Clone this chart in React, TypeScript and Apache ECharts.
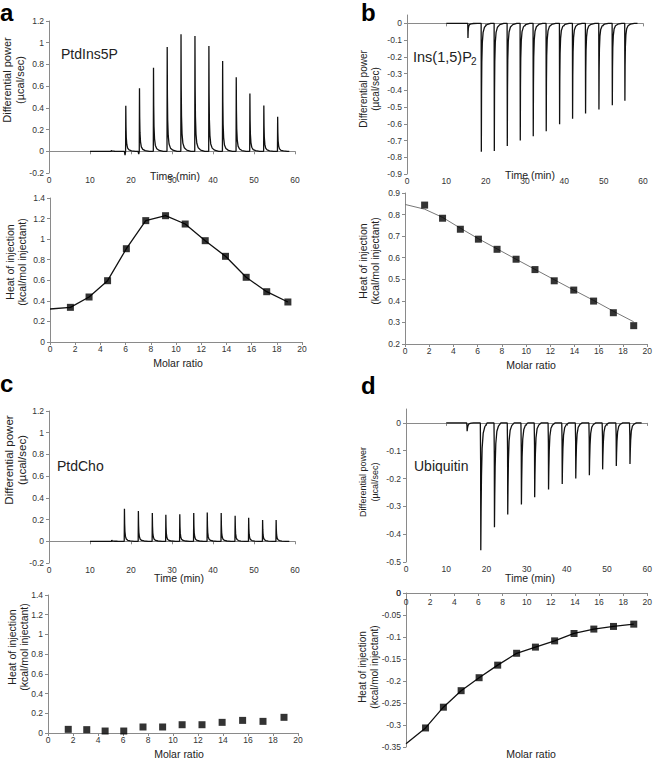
import React, { useEffect, useRef } from 'react';
import * as echarts from 'echarts';

const FONT = '"Liberation Sans", Arial, Helvetica, sans-serif';

// Molar ratio of each integrated injection (shared by all binding isotherms)
const molarRatio = [1.62, 3.1, 4.57, 6.06, 7.6, 9.17, 10.73, 12.32, 13.93, 15.57, 17.2, 18.88];

// Panel a – PtdIns5P
const aPeakTime = [15.2, 18.73, 22.07, 25.49, 28.83, 32.2, 35.6, 39.0, 42.35, 45.67, 49.0, 52.4, 55.77];
const aPeakHeight = [0.008, 0.42, 0.58, 0.77, 0.96, 1.077, 1.061, 0.969, 0.831, 0.681, 0.533, 0.422, 0.317];
const aPreDip = [0, 0.035, 0.025, 0, 0, 0, 0, 0, 0, 0, 0, 0, 0];
const aHeat = [0.337, 0.4375, 0.596, 0.907, 1.18, 1.228, 1.147, 0.985, 0.833, 0.629, 0.489, 0.389];
const aFitX = [0, 1.62, 3.1, 4.57, 6.06, 7.6, 9.17, 10.73, 12.32, 13.93, 15.57, 17.2, 18.88];
const aFitY = [0.321, 0.337, 0.4375, 0.596, 0.907, 1.18, 1.228, 1.147, 0.985, 0.833, 0.629, 0.489, 0.389];

// Panel b – Ins(1,5)P2
const bPeakTime = [15.5, 18.9, 22.2, 25.5, 28.8, 32.1, 35.4, 38.8, 42.1, 45.4, 48.8, 52.2, 55.4];
const bPeakHeight = [-0.087, -0.767, -0.763, -0.733, -0.7, -0.674, -0.644, -0.602, -0.57, -0.538, -0.515, -0.489, -0.463];
const bHeat = [0.844, 0.783, 0.732, 0.686, 0.639, 0.593, 0.545, 0.493, 0.45, 0.399, 0.345, 0.285];
const bFitX = [0, 1.62, 3.1, 4.57, 6.06, 7.6, 9.17, 10.73, 12.32, 13.93, 15.57, 17.2, 18.88];
const bFitY = [0.847, 0.825, 0.787, 0.737, 0.688, 0.641, 0.593, 0.546, 0.498, 0.45, 0.402, 0.352, 0.303];

// Panel c – PtdCho
const cPeakTime = [15.3, 18.4, 21.8, 25.2, 28.5, 31.9, 35.3, 38.6, 42.0, 45.4, 48.7, 52.1, 55.4];
const cPeakHeight = [0.012, 0.3, 0.278, 0.26, 0.244, 0.25, 0.26, 0.266, 0.26, 0.235, 0.217, 0.195, 0.195];
const cHeat = [0.037, 0.034, 0.02, 0.02, 0.061, 0.061, 0.084, 0.084, 0.108, 0.128, 0.118, 0.159];

// Panel d – Ubiquitin
const dPeakTime = [15.2, 18.6, 22.0, 25.3, 28.7, 32.0, 35.45, 38.85, 42.22, 45.6, 48.9, 52.3, 55.7];
const dPeakHeight = [-0.03, -0.458, -0.375, -0.329, -0.293, -0.267, -0.239, -0.22, -0.2, -0.188, -0.167, -0.155, -0.148];
const dHeat = [-0.3067, -0.2595, -0.222, -0.1925, -0.164, -0.137, -0.123, -0.1088, -0.092, -0.082, -0.076, -0.0708];
const dFitX = [0, 1.62, 3.1, 4.57, 6.06, 7.6, 9.17, 10.73, 12.32, 13.93, 15.57, 17.2, 18.88];
const dFitY = [-0.3425, -0.3067, -0.2595, -0.222, -0.1925, -0.164, -0.137, -0.123, -0.1088, -0.092, -0.082, -0.076, -0.0708];

// Peak shape templates [minutes after injection, fraction of peak height]
const sharpProfile: number[][] = [[-0.05, 0], [0, 1], [0.05, 0.55], [0.12, 0.3], [0.25, 0.15], [0.45, 0.07], [0.8, 0.03], [1.4, 0.01], [2.4, 0]];
const broadProfile: number[][] = [[-0.12, 0], [-0.04, 0.3], [0, 1], [0.07, 0.7], [0.17, 0.42], [0.33, 0.2], [0.6, 0.08], [1.0, 0.03], [1.6, 0]];

function thermogram(times: number[], heights: number[], profile: number[][], dips?: number[]) {
  const pts: number[][] = [[10, 0]];
  times.forEach((t, i) => {
    if (dips && dips[i] > 0) {
      pts.push([t - 0.35, 0]);
      pts.push([t - 0.18, -dips[i]]);
    }
    profile.forEach(([dt, f]) => pts.push([t + dt, heights[i] * f]));
  });
  pts.push([58.6, 0]);
  return pts;
}

const pairs = (xs: number[], ys: number[]) => xs.map((x, i) => [x, ys[i]]);

const AX = '#8a8a8a';
const LBL = '#333';

function xAxisDef(grid: number, max: number, interval: number, top = false) {
  return {
    type: 'value', gridIndex: grid, min: 0, max, interval,
    position: top ? 'top' : 'bottom',
    axisLine: { show: true, onZero: !top, lineStyle: { color: AX, width: 1 } },
    axisTick: { show: true, length: 3, inside: top, lineStyle: { color: AX } },
    axisLabel: { fontSize: 8.5, color: LBL, margin: top ? 4 : 2, inside: top, fontFamily: FONT },
    splitLine: { show: false },
  };
}
function yAxisDef(grid: number, min: number, max: number, interval: number, hideMax = false) {
  return {
    type: 'value', gridIndex: grid, min, max, interval,
    axisLine: { show: true, onZero: false, lineStyle: { color: AX, width: 1 } },
    axisTick: { show: true, length: 3, lineStyle: { color: AX } },
    axisLabel: { fontSize: 8.5, color: LBL, margin: 5, fontFamily: FONT, showMaxLabel: !hideMax, showMinLabel: true },
    splitLine: { show: false },
  };
}

function txt(x: number, y: number, text: string, size: number, opts: any = {}) {
  return {
    type: 'text', x, y, rotation: opts.rotation || 0, silent: true,
    style: {
      text, fontSize: size, fontFamily: FONT, fill: opts.fill || '#222',
      fontWeight: opts.bold ? 'bold' : 'normal',
      textAlign: opts.align || 'center', textVerticalAlign: opts.valign || 'middle',
      lineHeight: opts.lineHeight || Math.round(size * 1.2),
    },
  };
}

export default function App() {
  const ref = useRef<HTMLDivElement>(null);
  useEffect(() => {
    document.body.style.margin = '0';
    const chart = echarts.init(ref.current!, null, { renderer: 'svg' });
    const lineS = (x: number, data: number[][], color = '#111', width = 1.3) => ({
      type: 'line', xAxisIndex: x, yAxisIndex: x, data, showSymbol: false, symbol: 'none',
      lineStyle: { color, width }, z: 2, silent: true,
    });
    const scatterS = (x: number, ys: number[]) => ({
      type: 'scatter', xAxisIndex: x, yAxisIndex: x, data: pairs(molarRatio, ys),
      symbol: 'rect', symbolSize: 7, itemStyle: { color: '#000' }, z: 3, silent: true,
    });
    const R = Math.PI / 2;
    const option: any = {
      animation: false,
      textStyle: { fontFamily: FONT },
      grid: [
        { left: 49, top: 21, width: 246, height: 152 },
        { left: 50, top: 198, width: 252, height: 144 },
        { left: 407, top: 15, width: 236, height: 159 },
        { left: 405, top: 193, width: 245, height: 151 },
        { left: 49, top: 411, width: 246, height: 152 },
        { left: 48, top: 595, width: 250, height: 138 },
        { left: 406, top: 409, width: 242, height: 153 },
        { left: 406, top: 593, width: 244, height: 154 },
      ],
      xAxis: [
        xAxisDef(0, 60, 10), xAxisDef(1, 20, 2), xAxisDef(2, 60, 10), xAxisDef(3, 20, 2),
        xAxisDef(4, 60, 10), xAxisDef(5, 20, 2), xAxisDef(6, 60, 10), xAxisDef(7, 20, 2, true),
      ],
      yAxis: [
        yAxisDef(0, -0.2, 1.2, 0.2), yAxisDef(1, 0, 1.4, 0.2),
        yAxisDef(2, -0.9, 0.05, 0.1, true), yAxisDef(3, 0.2, 0.9, 0.1),
        yAxisDef(4, -0.2, 1.2, 0.2), yAxisDef(5, 0, 1.4, 0.2),
        yAxisDef(6, -0.5, 0.05, 0.1, true), yAxisDef(7, -0.35, 0, 0.05),
      ],
      series: [
        lineS(0, thermogram(aPeakTime, aPeakHeight, sharpProfile, aPreDip)),
        lineS(1, pairs(aFitX, aFitY)), scatterS(1, aHeat),
        lineS(2, thermogram(bPeakTime, bPeakHeight, sharpProfile)),
        lineS(3, pairs(bFitX, bFitY), '#777', 1), scatterS(3, bHeat),
        lineS(4, thermogram(cPeakTime, cPeakHeight, sharpProfile)),
        scatterS(5, cHeat),
        lineS(6, thermogram(dPeakTime, dPeakHeight, broadProfile)),
        lineS(7, pairs(dFitX, dFitY)), scatterS(7, dHeat),
      ],
      graphic: [
        // panel letters
        txt(0, 12.6, 'a', 24, { bold: true, align: 'left', fill: '#000' }),
        txt(361, 12.6, 'b', 24, { bold: true, align: 'left', fill: '#000' }),
        txt(0, 383, 'c', 24, { bold: true, align: 'left', fill: '#000' }),
        txt(361, 385, 'd', 24, { bold: true, align: 'left', fill: '#000' }),
        // compound names
        txt(61, 54, 'PtdIns5P', 14, { align: 'left' }),
        txt(413, 57, 'Ins(1,5)P', 14.5, { align: 'left' }),
        txt(471, 61, '2', 10, { align: 'left' }),
        txt(57, 466, 'PtdCho', 14, { align: 'left' }),
        txt(414, 466, 'Ubiquitin', 14, { align: 'left' }),
        // zero label at the top of the d isotherm's y axis
        txt(401, 593, '0', 8.5, { align: 'right', fill: LBL }),
        // x titles
        txt(175, 176, 'Time (min)', 10.5),
        txt(178, 363, 'Molar ratio', 10.5),
        txt(530, 175, 'Time (min)', 10.5),
        txt(531, 365, 'Molar ratio', 10.5),
        txt(179, 578, 'Time (min)', 10.5),
        txt(179, 754, 'Molar ratio', 10.5),
        txt(530, 578, 'Time (min)', 10.5),
        txt(531, 754, 'Molar ratio', 10.5),
        // y titles
        txt(13, 80, 'Differential power\n(µcal/sec)', 11, { rotation: R, lineHeight: 13 }),
        txt(16, 262, 'Heat of injection\n(kcal/mol injectant)', 10.5, { rotation: R, lineHeight: 12 }),
        txt(369, 89, 'Differential power\n(µcal/sec)', 10, { rotation: R, lineHeight: 12 }),
        txt(369, 261, 'Heat of injection\n(kcal/mol injectant)', 10.5, { rotation: R, lineHeight: 12 }),
        txt(15, 460, 'Differential power\n(µcal/sec)', 11.5, { rotation: R, lineHeight: 13 }),
        txt(18, 647, 'Heat of injection\n(kcal/mol injectant)', 10.5, { rotation: R, lineHeight: 12 }),
        txt(369, 482, 'Differential power\n(µcal/sec)', 9, { rotation: R, lineHeight: 12 }),
        txt(368, 667, 'Heat of injection\n(kcal/mol injectant)', 10, { rotation: R, lineHeight: 12 }),
      ],
    };
    chart.setOption(option);
    return () => chart.dispose();
  }, []);
  return <div ref={ref} style={{ width: 655, height: 759 }} />;
}
